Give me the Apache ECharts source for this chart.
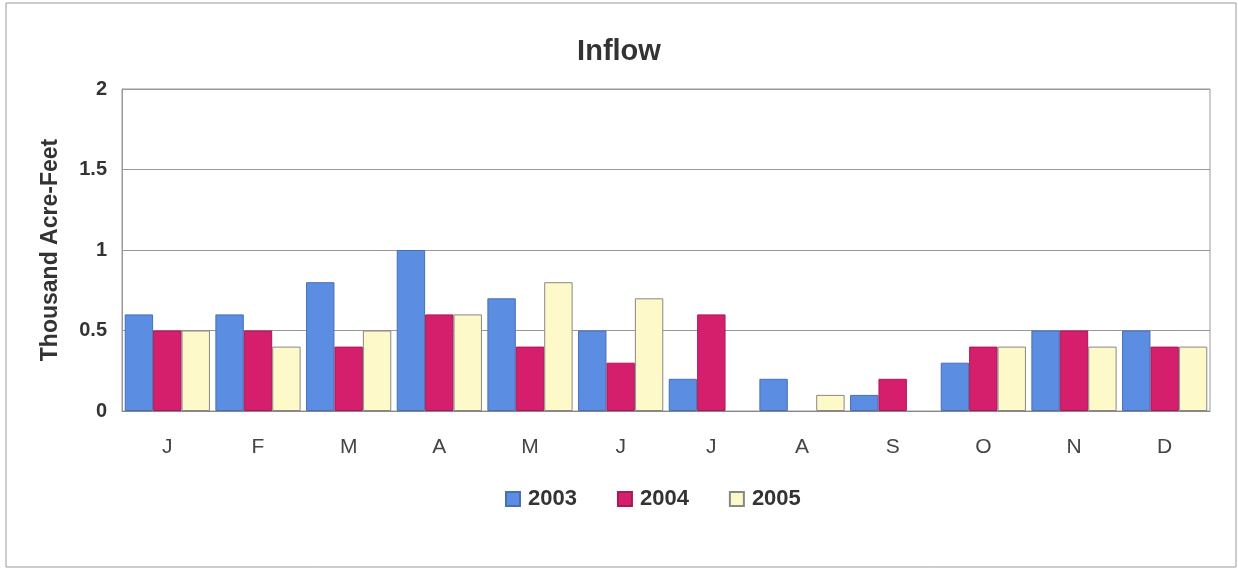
<!DOCTYPE html>
<html><head><meta charset="utf-8">
<script src="https://cdn.jsdelivr.net/npm/echarts@6/dist/echarts.min.js"></script>
<style>html,body{margin:0;padding:0;background:#fff}#c{width:1238px;height:570px}</style>
</head><body><div id="c"></div>
<script>
const categories = ['J','F','M','A','M','J','J','A','S','O','N','D'];
const s2003 = [0.6,0.6,0.8,1.0,0.7,0.5,0.2,0.2,0.1,0.3,0.5,0.5];
const s2004 = [0.5,0.5,0.4,0.6,0.4,0.3,0.6,0,0.2,0.4,0.5,0.4];
const s2005 = [0.5,0.4,0.5,0.6,0.8,0.7,0,0.1,0,0.4,0.4,0.4];
const yTicks = [0,0.5,1,1.5,2];

const chart = echarts.init(document.getElementById('c'), null, {renderer:'canvas'});
const font = 'Liberation Sans, Arial, sans-serif';
function bar(name, data, color, border){
  return {name, type:'bar', barGap:'0%', barCategoryGap:'6%',
    data: data.map(v => v === 0 ? {value:v, itemStyle:{borderWidth:0}} : v),
    itemStyle:{color, borderColor:border, borderWidth:1}};
}
chart.setOption({
  animation:false,
  graphic:[{type:'rect', shape:{x:6,y:3,width:1230,height:564}, style:{fill:'none', stroke:'#999', lineWidth:1}}],
  title:{text:'Inflow', left:'center', top:32, textStyle:{fontFamily:font, fontSize:29, fontWeight:'bold', color:'#333'}},
  legend:{top:483, left:500, icon:'rect', itemWidth:14, itemHeight:14, itemGap:40,
    textStyle:{fontFamily:font, fontSize:22, fontWeight:'bold', color:'#333', padding:[0,0,0,3]},
    data:['2003','2004','2005']},
  grid:{left:122, right:28, top:89, bottom:159, show:true, borderColor:'#999', borderWidth:1},
  xAxis:{type:'category', data:categories,
    axisLine:{lineStyle:{color:'#888'}}, axisTick:{show:false},
    axisLabel:{fontFamily:font, fontSize:21, color:'#444', margin:26}},
  yAxis:{type:'value', min:0, max:2, interval:0.5,
    name:'Thousand Acre-Feet', nameLocation:'middle', nameGap:60,
    nameTextStyle:{fontFamily:font, fontSize:23, fontWeight:'bold', color:'#333'},
    axisLine:{show:true, lineStyle:{color:'#999'}}, axisTick:{show:false},
    axisLabel:{fontFamily:font, fontSize:20, fontWeight:'bold', color:'#333', margin:15,
      formatter:v=> yTicks.includes(v) ? String(v) : ''},
    splitLine:{lineStyle:{color:'#999'}}},
  series:[
    bar('2003', s2003, '#5b8de3', '#4a6fb0'),
    bar('2004', s2004, '#d61f6c', '#a8195a'),
    bar('2005', s2005, '#fdf9c8', '#888')
  ]
});
</script></body></html>
